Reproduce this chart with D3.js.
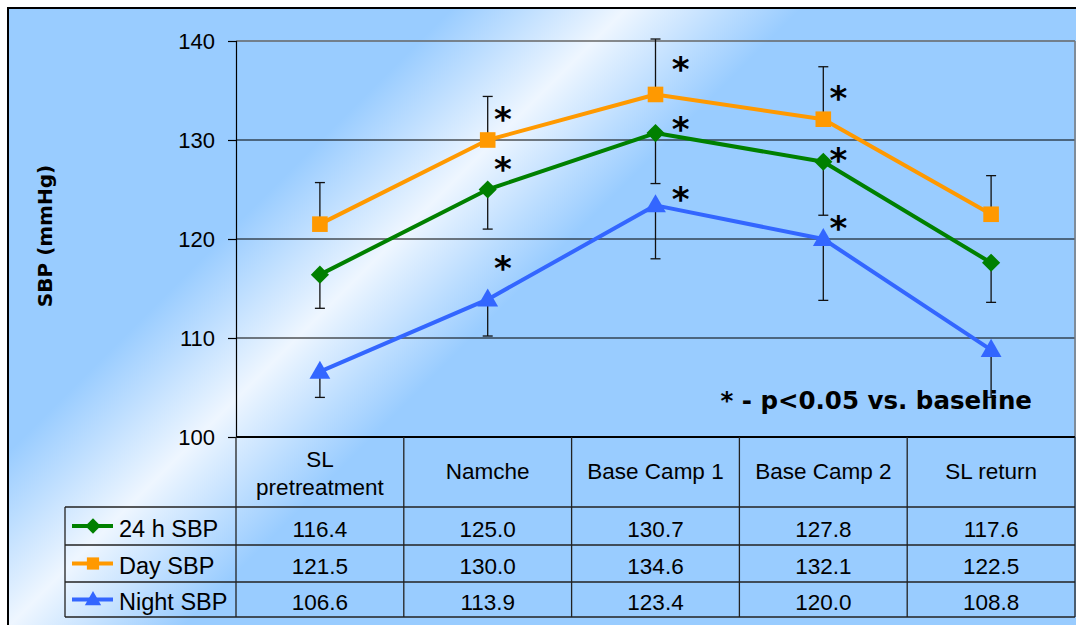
<!DOCTYPE html>
<html>
<head>
<meta charset="utf-8">
<script src="https://cdn.jsdelivr.net/npm/d3@7"></script>
<style>
  html, body { margin: 0; padding: 0; background: #fff; }
  svg { display: block; }
</style>
</head>
<body>
<svg id="chart" width="1076" height="625"></svg>
<script>
// ---------------- DATA ----------------
const categories = ["SL pretreatment", "Namche", "Base Camp 1", "Base Camp 2", "SL return"];
const headerLines = [["SL", "pretreatment"], ["Namche"], ["Base Camp 1"], ["Base Camp 2"], ["SL return"]];
const seriesNames = ["24 h SBP", "Day SBP", "Night SBP"];
const sbp24h  = [116.4, 125.0, 130.7, 127.8, 117.6];
const sbpDay  = [121.5, 130.0, 134.6, 132.1, 122.5];
const sbpNight = [106.6, 113.9, 123.4, 120.0, 108.8];
// error bar end values (24h & Night drawn downward, Day upward)
const err24h  = [113.0, 121.0, 125.6, 122.4, 113.6];
const errDay  = [125.7, 134.4, 140.2, 137.4, 126.4];
const errNight = [104.0, 110.2, 118.0, 113.8, 104.0];
// significance markers (category, level in mmHg)
const sigCats = ["Namche", "Namche", "Namche", "Base Camp 1", "Base Camp 1", "Base Camp 1", "Base Camp 2", "Base Camp 2", "Base Camp 2"];
const sigLevels = [132.7, 127.7, 117.7, 137.8, 131.7, 124.6, 134.8, 128.6, 121.7];
const yTicks = [100, 110, 120, 130, 140];
const noteText = "* - p<0.05 vs. baseline";
const yLabel = "SBP (mmHg)";

// ---------------- STYLE ----------------
const colors = ["#008000", "#FF9900", "#3366FF"];
const symbols = [d3.symbolDiamond2, d3.symbolSquare2, d3.symbolTriangle2];
const font = "'Liberation Sans', Arial, sans-serif";
const boldFont = "'DejaVu Sans', Verdana, sans-serif";

const series = [
  {name: seriesNames[0], values: sbp24h, err: err24h, color: colors[0], sym: symbols[0]},
  {name: seriesNames[1], values: sbpDay, err: errDay, color: colors[1], sym: symbols[1]},
  {name: seriesNames[2], values: sbpNight, err: errNight, color: colors[2], sym: symbols[2]}
];

const svg = d3.select("#chart");
const W = 1076, H = 625;

// background gradient
const defs = svg.append("defs");
const grad = defs.append("linearGradient").attr("id", "bg")
  .attr("gradientUnits", "userSpaceOnUse")
  .attr("x1", 230).attr("y1", 230).attr("x2", 405).attr("y2", 405);
grad.append("stop").attr("offset", 0).attr("stop-color", "#99CCFF");
grad.append("stop").attr("offset", 0.5).attr("stop-color", "#EEF6FF");
grad.append("stop").attr("offset", 1).attr("stop-color", "#99CCFF");

svg.append("rect").attr("x", 8).attr("y", 8).attr("width", W - 8).attr("height", H - 8)
  .attr("fill", "url(#bg)");
svg.append("line").attr("x1", 7).attr("x2", W).attr("y1", 8).attr("y2", 8).attr("stroke", "#000").attr("stroke-width", 2);
svg.append("line").attr("x1", 8).attr("x2", 8).attr("y1", 7).attr("y2", H).attr("stroke", "#000").attr("stroke-width", 2);

// scales
const plotL = 236, plotR = 1075, plotT = 41, plotB = 437;
const x = d3.scaleBand().domain(categories).range([plotL, plotR]).padding(0);
const xc = c => x(c) + x.bandwidth() / 2;
const y = d3.scaleLinear().domain([100, 140]).range([plotB, plotT]);

// gridlines
svg.append("g").selectAll("line").data(yTicks.filter(t => t > 100)).join("line")
  .attr("x1", plotL).attr("x2", plotR)
  .attr("y1", d => y(d)).attr("y2", d => y(d))
  .attr("stroke", d => d === 140 ? "#666" : "#000").attr("stroke-width", d => d === 140 ? 1.5 : 1.2);
// right border of plot
svg.append("line").attr("x1", plotR).attr("x2", plotR).attr("y1", plotT).attr("y2", plotB)
  .attr("stroke", "#777").attr("stroke-width", 1.5);

// y axis
const yAxis = d3.axisLeft(y).tickValues(yTicks).tickSize(8).tickPadding(13);
const gy = svg.append("g").attr("transform", `translate(${plotL},0)`).call(yAxis);
gy.select(".domain").attr("stroke", "#000").attr("stroke-width", 1.2);
gy.selectAll(".tick line").attr("stroke", "#000").attr("stroke-width", 1.2);
gy.selectAll(".tick text").attr("font-family", font).attr("font-size", 22).attr("fill", "#000");

// y label
svg.append("text")
  .attr("transform", `translate(52,236) rotate(-90)`)
  .attr("text-anchor", "middle")
  .attr("font-family", boldFont).attr("font-weight", "bold").attr("font-size", 20)
  .text(yLabel);

// ---------------- TABLE ----------------
const tableL = 65, headB = 507, rowH = [507, 545, 582, 617];
const tg = svg.append("g");
const tcol = "#222";
const tfs = 22.5;
tg.append("line").attr("x1", plotL).attr("x2", plotR).attr("y1", plotB).attr("y2", plotB)
  .attr("stroke", "#000").attr("stroke-width", 2.2);
tg.selectAll("line.h").data(rowH).join("line").attr("class", "h")
  .attr("x1", tableL).attr("x2", plotR).attr("y1", d => d).attr("y2", d => d)
  .attr("stroke", tcol).attr("stroke-width", 1.3);
const vx = categories.map(c => x(c)).concat([plotR]);
tg.selectAll("line.v").data(vx).join("line").attr("class", "v")
  .attr("x1", d => d).attr("x2", d => d).attr("y1", plotB).attr("y2", rowH[3])
  .attr("stroke", tcol).attr("stroke-width", 1.3);
tg.append("line").attr("x1", tableL).attr("x2", tableL).attr("y1", headB).attr("y2", rowH[3])
  .attr("stroke", tcol).attr("stroke-width", 1.3);

categories.forEach((c, i) => {
  const lines = headerLines[i];
  const base = lines.length === 2 ? [467, 495] : [479];
  lines.forEach((ln, j) => {
    tg.append("text").attr("x", xc(c)).attr("y", base[j])
      .attr("text-anchor", "middle").attr("font-family", font).attr("font-size", tfs)
      .text(ln);
  });
});

const rowBase = [537, 574, 610];
series.forEach((s, r) => {
  s.values.forEach((v, i) => {
    tg.append("text").attr("x", xc(categories[i])).attr("y", rowBase[r])
      .attr("text-anchor", "middle").attr("font-family", font).attr("font-size", tfs)
      .text(d3.format(".1f")(v));
  });
  const cy = (rowH[r] + rowH[r + 1]) / 2;
  tg.append("line").attr("x1", 72).attr("x2", 113).attr("y1", cy).attr("y2", cy)
    .attr("stroke", s.color).attr("stroke-width", 4);
  tg.append("path").attr("d", d3.symbol().type(s.sym).size(r === 0 ? 150 : 190)())
    .attr("transform", `translate(93,${cy + (r === 2 ? 1 : 0)})`).attr("fill", s.color);
  tg.append("text").attr("x", 119).attr("y", rowBase[r])
    .attr("font-family", font).attr("font-size", 23.5).text(s.name);
});

// ---------------- SERIES ----------------
const line = d3.line().x((d, i) => xc(categories[i])).y(d => y(d));
const eg = svg.append("g");
series.forEach(s => {
  s.values.forEach((v, i) => {
    const cx = xc(categories[i]);
    eg.append("line").attr("x1", cx).attr("x2", cx).attr("y1", y(v)).attr("y2", y(s.err[i]))
      .attr("stroke", "#111").attr("stroke-width", 1.3);
    eg.append("line").attr("x1", cx - 5).attr("x2", cx + 5).attr("y1", y(s.err[i])).attr("y2", y(s.err[i]))
      .attr("stroke", "#111").attr("stroke-width", 1.3);
  });
});
series.forEach((s, k) => {
  svg.append("path").datum(s.values).attr("d", line)
    .attr("fill", "none").attr("stroke", s.color).attr("stroke-width", 4).attr("stroke-linejoin", "round");
  svg.append("g").selectAll("path").data(s.values).join("path")
    .attr("d", d3.symbol().type(s.sym).size(k === 0 ? 210 : 310)())
    .attr("transform", (d, i) => `translate(${xc(categories[i])},${y(d) + (k === 2 ? 1 : 0)})`)
    .attr("fill", s.color);
});

// significance asterisks
const sigShift = {"Namche": 0.09, "Base Camp 1": 0.15, "Base Camp 2": 0.09};
svg.append("g").selectAll("text").data(sigCats).join("text")
  .attr("x", (c) => xc(c) + sigShift[c] * x.bandwidth())
  .attr("y", (c, i) => y(sigLevels[i]) + 18)
  .attr("text-anchor", "middle")
  .attr("font-family", boldFont).attr("font-weight", "bold").attr("font-size", 34)
  .text("*");

// note
svg.append("text").attr("x", 1032).attr("y", 409).attr("text-anchor", "end")
  .attr("font-family", boldFont).attr("font-weight", "bold").attr("font-size", 24.5)
  .text(noteText);
</script>
</body>
</html>
